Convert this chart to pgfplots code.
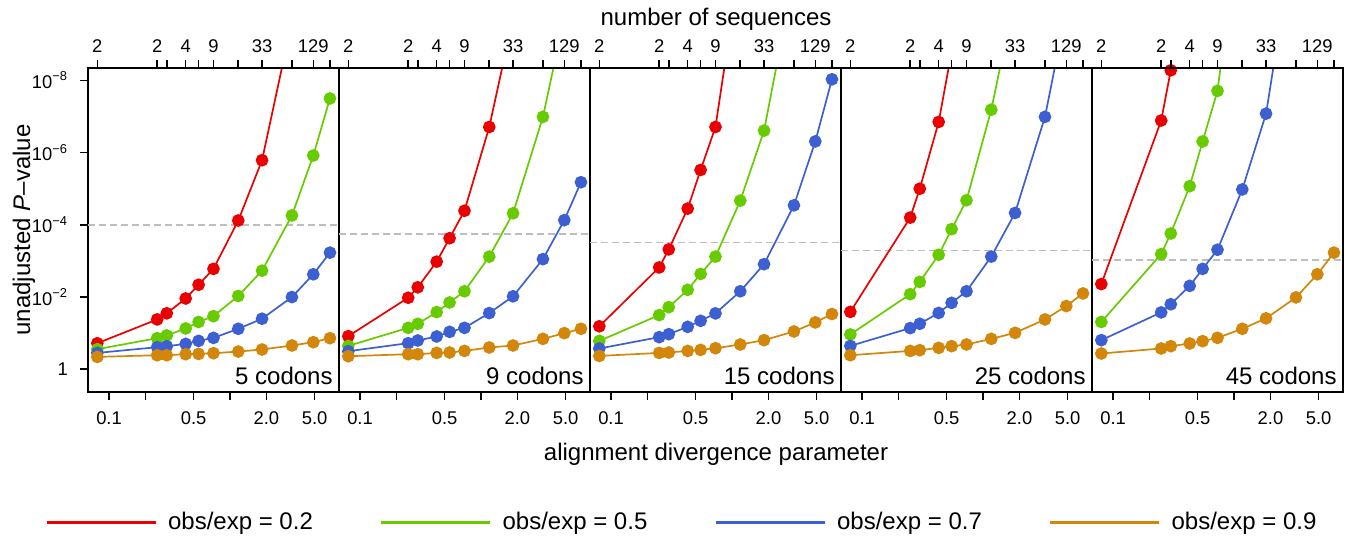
\documentclass[border=0pt]{standalone}
\usepackage{fontspec}
\setmainfont{Liberation Sans}
\usepackage{pgfplots}
\pgfplotsset{compat=1.18}
\usepackage{pgfplotstable}

\definecolor{cRed}{RGB}{235,0,0}
\definecolor{cGreen}{RGB}{102,204,0}
\definecolor{cBlue}{RGB}{60,95,210}
\definecolor{cOrange}{RGB}{210,135,10}
\definecolor{cThr}{RGB}{190,190,190}

\newcommand\ticksize{\fontsize{9.2}{11}\selectfont}
\newcommand\labelsize{\fontsize{12}{14}\selectfont}

% y = -log10(unadjusted P); nan = off the top of the panel
\pgfplotstableread{
x    r     g     b     o
0.08 0.72  0.556 0.453 0.342
0.25 1.38  0.861 0.611 0.389
0.30 1.55  0.936 0.639 0.389
0.43 1.96  1.13  0.703 0.417
0.55 2.34  1.31  0.786 0.425
0.73 2.78  1.47  0.869 0.444
1.17 4.12  2.03  1.12  0.49
1.84 5.79  2.73  1.40  0.547
3.25 9.64  4.26  2.00  0.658
4.88 nan   5.92  2.63  0.75
6.70 nan   7.50  3.23  0.861
}\tabA
\pgfplotstableread{
x    r     g     b     o
0.08 0.917 0.647 0.50  0.361
0.25 1.98  1.147 0.722 0.417
0.30 2.27  1.258 0.797 0.417
0.43 2.98  1.583 0.908 0.453
0.55 3.63  1.85  1.036 0.464
0.73 4.39  2.16  1.147 0.508
1.17 6.71  3.12  1.556 0.603
1.84 9.73  4.32  2.02  0.658
3.25 nan   6.99  3.05  0.842
4.88 nan   9.76  4.13  1.00
6.70 nan   nan   5.18  1.12
}\tabB
\pgfplotstableread{
x    r     g     b     o
0.08 1.19  0.786 0.575 0.369
0.25 2.82  1.50  0.889 0.453
0.30 3.32  1.72  0.972 0.464
0.43 4.45  2.20  1.175 0.508
0.55 5.52  2.64  1.342 0.536
0.73 6.71  3.12  1.547 0.583
1.17 11.3  4.67  2.16  0.686
1.84 nan   6.61  2.91  0.806
3.25 nan   10.9  4.54  1.047
4.88 nan   nan   6.31  1.297
6.70 nan   nan   8.03  1.53
}\tabC
\pgfplotstableread{
x    r     g     b     o
0.08 1.59  0.964 0.647 0.389
0.25 4.20  2.08  1.14  0.508
0.30 5.00  2.42  1.26  0.528
0.43 6.85  3.17  1.56  0.592
0.55 8.80  3.88  1.84  0.639
0.73 nan   4.68  2.16  0.686
1.17 nan   7.19  3.12  0.842
1.84 nan   10.35 4.33  1.008
3.25 nan   nan   6.99  1.38
4.88 nan   nan   9.95  1.75
6.70 nan   nan   nan   2.10
}\tabD
\pgfplotstableread{
x    r     g     b     o
0.08 2.36  1.31  0.806 0.436
0.25 6.89  3.19  1.575 0.575
0.30 8.28  3.76  1.80  0.639
0.43 10.4  5.07  2.31  0.714
0.55 nan   6.31  2.78  0.778
0.73 nan   7.71  3.31  0.869
1.17 nan   13.0  4.98  1.12
1.84 nan   nan   7.08  1.41
3.25 nan   nan   12.3  1.99
4.88 nan   nan   nan   2.63
6.70 nan   nan   nan   3.23
}\tabE

\pgfplotsset{
  every axis/.append style={
    scale only axis, width=125.5pt, height=162pt,
    xmin=0.067, xmax=7.96, ymin=-0.63, ymax=8.344,
    xminorticks=false, yminorticks=false,
    tick align=outside, major tick length=4pt,
    axis line style={black, line width=0.8pt},
    every tick/.style={black, line width=0.8pt},
    tick label style={font=\ticksize},
  },
}
\tikzset{
  ser/.style={color=#1, line width=0.85pt, mark=*, mark size=2.75pt, mark options={solid}},
  thr/.style={color=cThr, dash pattern=on 3.5pt off 2pt, line width=0.75pt, mark=none},
  codon/.style={anchor=base east, font=\labelsize, inner sep=0pt, xshift=-3pt, yshift=4pt},
}

\begin{document}
\begin{tikzpicture}
\path[use as bounding box] (-44pt,-72pt) rectangle (632pt,196pt);

% ---- panel 1 ----
\begin{axis}[xmode=log, at={(0pt,0)},
  xtick={0.1,0.2,0.5,1,2,5}, xticklabels={0.1,,0.5,,2.0,5.0},
  xtick pos=bottom, ytick pos=left,
  xticklabel style={yshift=-2.5pt}, yticklabel style={xshift=-2.5pt},
  ytick={0,2,4,6,8},
  yticklabels={1,10\textsuperscript{−2},10\textsuperscript{−4},10\textsuperscript{−6},10\textsuperscript{−8}}]
  \addplot[thr, forget plot] coordinates {(0.067,3.99) (7.96,3.99)};
  \addplot[ser=cRed] table[x=x, y=r] {\tabA};
  \addplot[ser=cGreen] table[x=x, y=g] {\tabA};
  \addplot[ser=cBlue] table[x=x, y=b] {\tabA};
  \addplot[ser=cOrange] table[x=x, y=o] {\tabA};
  \node[codon] at (rel axis cs:1,0) {5 codons};
\end{axis}
% ---- panel 2 ----
\begin{axis}[xmode=log, at={(125.5pt,0)},
  xtick={0.1,0.2,0.5,1,2,5}, xticklabels={0.1,,0.5,,2.0,5.0},
  xtick pos=bottom, xticklabel style={yshift=-2.5pt}, ytick=\empty]
  \addplot[thr, forget plot] coordinates {(0.067,3.75) (7.96,3.75)};
  \addplot[ser=cRed] table[x=x, y=r] {\tabB};
  \addplot[ser=cGreen] table[x=x, y=g] {\tabB};
  \addplot[ser=cBlue] table[x=x, y=b] {\tabB};
  \addplot[ser=cOrange] table[x=x, y=o] {\tabB};
  \node[codon] at (rel axis cs:1,0) {9 codons};
\end{axis}
% ---- panel 3 ----
\begin{axis}[xmode=log, at={(251pt,0)},
  xtick={0.1,0.2,0.5,1,2,5}, xticklabels={0.1,,0.5,,2.0,5.0},
  xtick pos=bottom, xticklabel style={yshift=-2.5pt}, ytick=\empty]
  \addplot[thr, forget plot] coordinates {(0.067,3.51) (7.96,3.51)};
  \addplot[ser=cRed] table[x=x, y=r] {\tabC};
  \addplot[ser=cGreen] table[x=x, y=g] {\tabC};
  \addplot[ser=cBlue] table[x=x, y=b] {\tabC};
  \addplot[ser=cOrange] table[x=x, y=o] {\tabC};
  \node[codon] at (rel axis cs:1,0) {15 codons};
\end{axis}
% ---- panel 4 ----
\begin{axis}[xmode=log, at={(376.5pt,0)},
  xtick={0.1,0.2,0.5,1,2,5}, xticklabels={0.1,,0.5,,2.0,5.0},
  xtick pos=bottom, xticklabel style={yshift=-2.5pt}, ytick=\empty]
  \addplot[thr, forget plot] coordinates {(0.067,3.29) (7.96,3.29)};
  \addplot[ser=cRed] table[x=x, y=r] {\tabD};
  \addplot[ser=cGreen] table[x=x, y=g] {\tabD};
  \addplot[ser=cBlue] table[x=x, y=b] {\tabD};
  \addplot[ser=cOrange] table[x=x, y=o] {\tabD};
  \node[codon] at (rel axis cs:1,0) {25 codons};
\end{axis}
% ---- panel 5 ----
\begin{axis}[xmode=log, at={(502pt,0)},
  xtick={0.1,0.2,0.5,1,2,5}, xticklabels={0.1,,0.5,,2.0,5.0},
  xtick pos=bottom, xticklabel style={yshift=-2.5pt}, ytick=\empty]
  \addplot[thr, forget plot] coordinates {(0.067,3.03) (7.96,3.03)};
  \addplot[ser=cRed] table[x=x, y=r] {\tabE};
  \addplot[ser=cGreen] table[x=x, y=g] {\tabE};
  \addplot[ser=cBlue] table[x=x, y=b] {\tabE};
  \addplot[ser=cOrange] table[x=x, y=o] {\tabE};
  \node[codon] at (rel axis cs:1,0) {45 codons};
\end{axis}

% ---- top axes: number of sequences ----
\foreach \sx in {0pt,125.5pt,251pt,376.5pt,502pt} {
\begin{axis}[xmode=log, at={(\sx,0)}, axis x line*=top, hide y axis,
  xtick={0.08,0.25,0.30,0.43,0.55,0.73,1.17,1.84,3.25,4.88,6.70},
  xticklabels={2,2,,4,,9,,33,,129,}]
\end{axis}
}

\node[font=\labelsize, anchor=base] at (314pt,183pt) {number of sequences};
\node[font=\labelsize, anchor=base] at (314pt,-34pt) {alignment divergence parameter};
\node[font=\labelsize, anchor=base, rotate=90] at (-29pt,81pt) {unadjusted \textit{P}–value};

% legend
\foreach \c/\t [count=\i from 0] in {cRed/0.2, cGreen/0.5, cBlue/0.7, cOrange/0.9} {
  \draw[\c, line width=1.3pt] ({-20.65pt+\i*167.25pt},-65.15pt) -- ({33.85pt+\i*167.25pt},-65.15pt);
  \node[font=\labelsize, anchor=base west, inner sep=0pt] at ({39.85pt+\i*167.25pt},-68.65pt) {obs/exp = \t};
}
\end{tikzpicture}
\end{document}
